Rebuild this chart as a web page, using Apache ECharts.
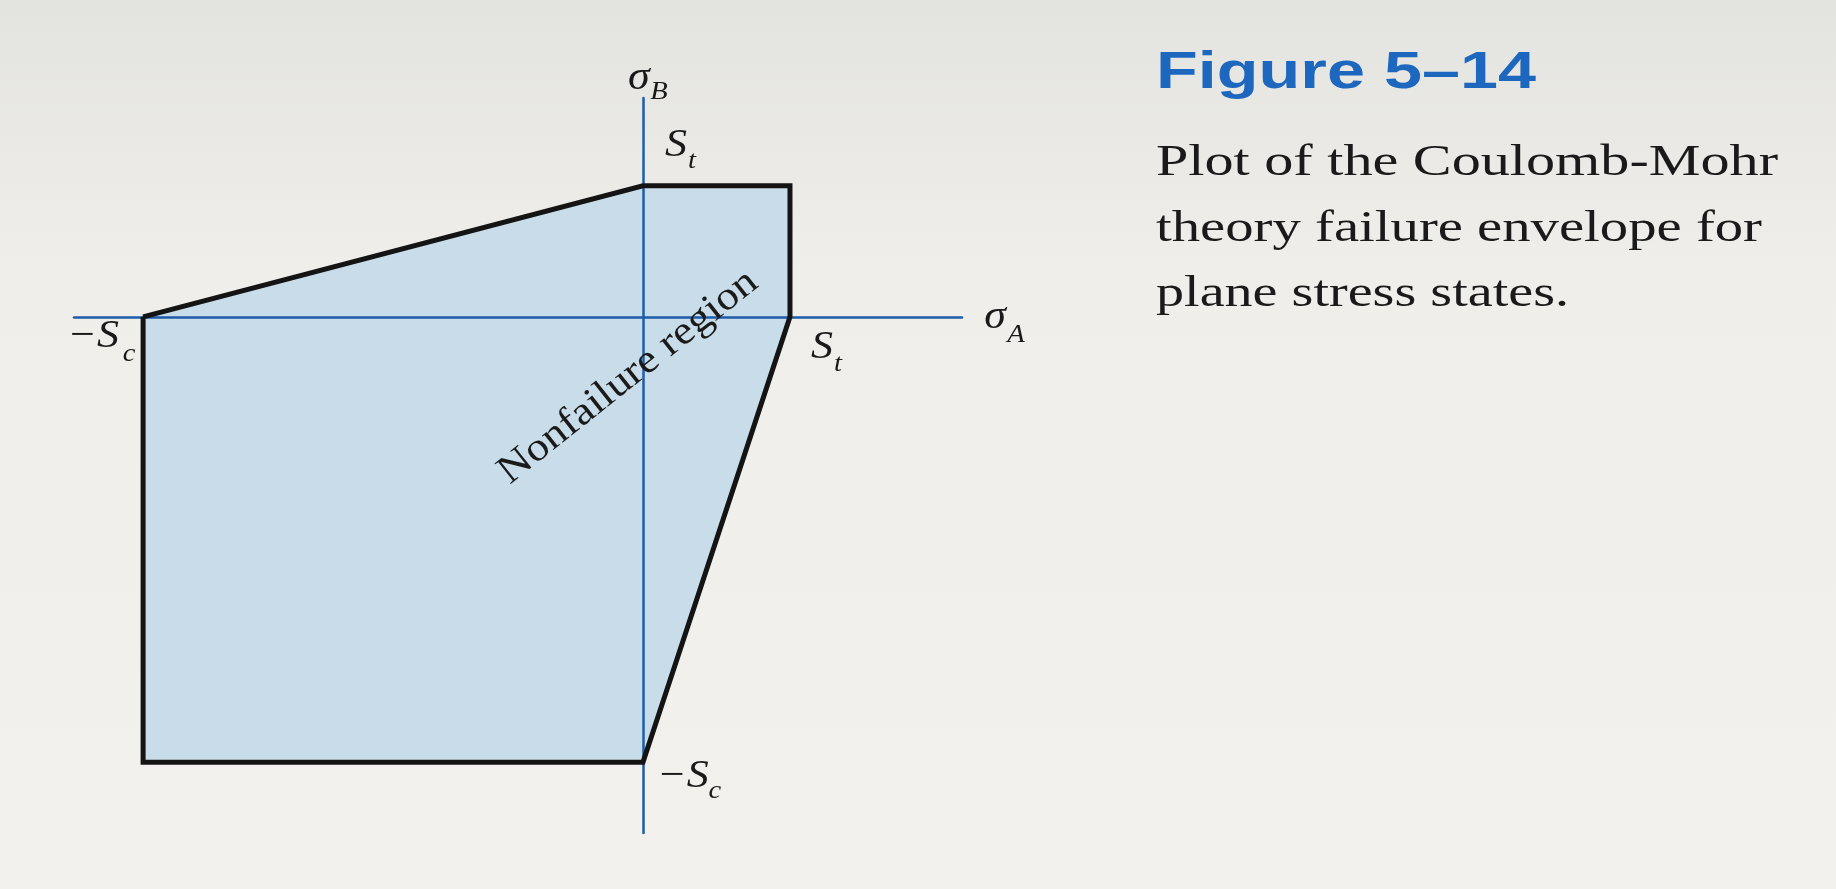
<!DOCTYPE html>
<html><head><meta charset="utf-8">
<script src="https://cdn.jsdelivr.net/npm/echarts@6/dist/echarts.min.js"></script>
<style>html,body{margin:0;padding:0;background:#efeeea}#chart{width:1836px;height:889px}</style>
</head><body><div id="chart"></div>
<script>
// ---- data (units: St = 10, Sc = 34) ----
const St = 10;
const Sc = 34;
const envelopeSigmaA = [-34, 0, 10, 10, 0, -34];
const envelopeSigmaB = [0, 10, 10, 0, -34, -34];
const axisRangeA = [-38.7, 21.7];
const axisRangeB = [-39.4, 16.7];
const labelMain = ['σ', 'σ', 'S', 'S', '−S', '−S'];
const labelSub = ['B', 'A', 't', 't', 'c', 'c'];
const labelAnchorA = [0, 21.7, 0, 10, -34, 0];
const labelAnchorB = [16.7, 0, 10, 0, 0, -34];
const regionText = 'Nonfailure region';
const regionAnchor = [-1, -4.6];
const captionTitle = 'Figure 5–14';
const captionLines = ['Plot of the Coulomb-Mohr', 'theory failure envelope for', 'plane stress states.'];

// ---- styles ----
const labelOffsets = [ // [mainDx, mainDy, subDx, subDy] in px
  [-4, -20, 16, -6],
  [33, 1, 54, 18],
  [33, -40, 49, -25],
  [32, 31, 48, 47],
  [-50, 20, -14, 37],
  [40, 14, 72, 29]
];
const ink = '#1a1a1a';
const serif = '"Liberation Serif", "DejaVu Serif", serif';

const measureCtx = document.createElement('canvas').getContext('2d');
function textW(text, font) { measureCtx.font = font; return measureCtx.measureText(text).width; }

const titleFont = 'bold 52px "Liberation Sans", Arial, sans-serif';
const capFont = '44px ' + serif;
const titleTargetW = 380;
const lineTargetW = [622, 606, 413];
const lineY = [163, 229, 294];

const graphics = [{
  type: 'text', x: 1156, y: 74, scaleX: titleTargetW / textW(captionTitle, titleFont),
  style: { text: captionTitle, font: titleFont, fill: '#1d67bf', align: 'left', verticalAlign: 'middle', textAlign: 'left', textVerticalAlign: 'middle' }
}];
captionLines.forEach((t, i) => {
  graphics.push({
    type: 'text', x: 1156, y: lineY[i], scaleX: lineTargetW[i] / textW(t, capFont),
    style: { text: t, font: capFont, fill: ink, align: 'left', verticalAlign: 'middle', textAlign: 'left', textVerticalAlign: 'middle' }
  });
});

const polyData = envelopeSigmaA.map((a, i) => [a, envelopeSigmaB[i]]);
const outlineData = polyData.concat([polyData[0]]);
const labelData = labelAnchorA.map((a, i) => [a, labelAnchorB[i]]);

const axisCommon = {
  type: 'value', z: 3,
  axisLine: { show: true, onZero: true, lineStyle: { color: '#1c5ca8', width: 2.5 } },
  axisTick: { show: false }, axisLabel: { show: false }, splitLine: { show: false }
};

const chart = echarts.init(document.getElementById('chart'), null, { renderer: 'canvas' });
chart.setOption({
  animation: false,
  backgroundColor: {
    type: 'linear', x: 0, y: 0, x2: 0, y2: 1,
    colorStops: [{ offset: 0, color: '#e3e3e0' }, { offset: 0.3, color: '#efeeea' }, { offset: 1, color: '#f2f1ed' }]
  },
  grid: { left: 74, top: 98, width: 888, height: 735 },
  xAxis: Object.assign({ min: axisRangeA[0], max: axisRangeA[1] }, axisCommon),
  yAxis: Object.assign({ min: axisRangeB[0], max: axisRangeB[1] }, axisCommon),
  graphic: graphics,
  series: [
    {
      type: 'custom', z: 1, data: polyData, silent: true,
      renderItem: (params, api) => {
        if (params.dataIndex !== 0) return null;
        const pts = polyData.map(p => api.coord(p));
        return { type: 'polygon', shape: { points: pts }, style: { fill: '#c8dde9', stroke: null } };
      }
    },
    {
      type: 'line', z: 5, data: outlineData, symbol: 'none', silent: true,
      lineStyle: { color: '#141414', width: 5, join: 'miter' }
    },
    {
      type: 'custom', z: 6, data: labelData, silent: true,
      renderItem: (params, api) => {
        const i = params.dataIndex;
        const p = api.coord([api.value(0), api.value(1)]);
        const o = labelOffsets[i];
        return {
          type: 'group', children: [
            { type: 'text', x: p[0] + o[0], y: p[1] + o[1], scaleX: 1.1,
              style: { text: labelMain[i], font: 'italic 40px ' + serif, fill: ink, align: 'center', verticalAlign: 'middle', textAlign: 'center', textVerticalAlign: 'middle' } },
            { type: 'text', x: p[0] + o[2], y: p[1] + o[3], scaleX: 1.1,
              style: { text: labelSub[i], font: 'italic 26px ' + serif, fill: ink, align: 'center', verticalAlign: 'middle', textAlign: 'center', textVerticalAlign: 'middle' } }
          ]
        };
      }
    },
    {
      type: 'custom', z: 6, data: [regionAnchor], silent: true,
      renderItem: (params, api) => {
        const p = api.coord([api.value(0), api.value(1)]);
        return { type: 'text', x: p[0], y: p[1], rotation: 38.5 * Math.PI / 180, scaleX: 1.12,
          style: { text: regionText, font: '40px ' + serif, fill: ink, align: 'center', verticalAlign: 'middle', textAlign: 'center', textVerticalAlign: 'middle' } };
      }
    }
  ]
});
</script></body></html>
